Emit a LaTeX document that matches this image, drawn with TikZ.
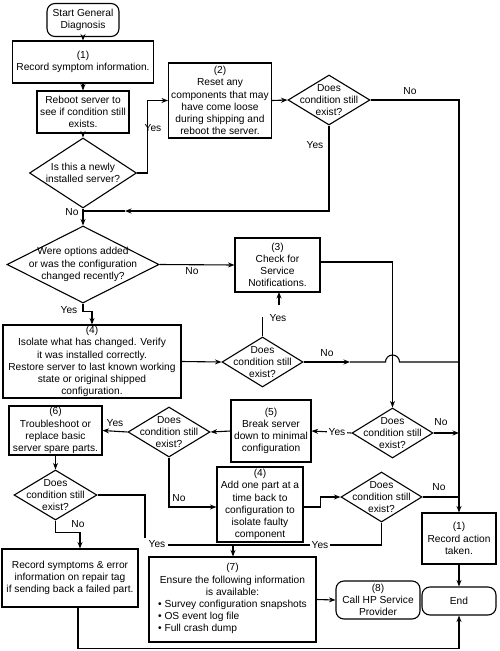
\documentclass[tikz,border=0pt]{standalone}
\usepackage{fontspec}
\setmainfont{Liberation Sans}
\usetikzlibrary{shapes.geometric,arrows.meta}
\begin{document}
\begin{tikzpicture}[x=1pt,y=-1pt,
  font=\fontsize{10.2}{12.2}\selectfont,
  line width=1.1pt,
  arr/.style={-{Stealth[length=6.5pt,width=5pt]}},
  box/.style={draw, rectangle, align=center, inner sep=0pt},
  rbox/.style={box, rounded corners=8pt},
  dia/.style={draw, diamond, inner sep=0pt},
  dtext/.style={align=center, inner sep=0pt},
  lbl/.style={inner sep=1pt},
  wlbl/.style={inner sep=1.5pt, fill=white},
]
\useasboundingbox (0,0) rectangle (500,651);

% ---- nodes ----
\node[rbox, minimum width=72pt, minimum height=33pt] (start) at (83,20) {Start General\\Diagnosis};
\node[box, minimum width=141pt, minimum height=42pt] (b1) at (83,62) {(1)\\Record symptom information.};
\node[box, minimum width=92pt, minimum height=42pt] (reboot) at (83,112) {Reboot server to\\see if condition still\\exists.};
\node[dia, minimum width=107pt, minimum height=70pt] (dnew) at (83,173) {};
\node[dtext] (tnew) at (dnew) {Is this a newly\\installed server?};
\node[box, minimum width=103pt, minimum height=75pt] (b2) at (220,100.5) {(2)\\Reset any\\components that may\\have come loose\\during shipping and\\reboot the server.};
\node[dia, minimum width=82pt, minimum height=50pt] (dc1) at (329,100) {};
\node[dtext] (tc1) at (dc1) {Does\\condition still\\exist?};
\node[dia, minimum width=152pt, minimum height=77pt] (dopt) at (83,264.5) {};
\node[dtext] (topt) at (dopt) {Were options added\\or was the configuration\\changed recently?};
\node[box, minimum width=85pt, minimum height=54pt] (b3) at (277.5,265) {(3)\\Check for\\Service\\Notifications.};
\node[box, minimum width=178pt, minimum height=73pt] (b4) at (92,361.5) {(4)\\Isolate what has changed. Verify\\it was installed correctly.\\Restore server to last known working\\state or original shipped\\configuration.};
\node[dia, minimum width=81pt, minimum height=50pt] (dc2) at (262.5,362) {};
\node[dtext] (tc2) at (dc2) {Does\\condition still\\exist?};
\node[dia, minimum width=81pt, minimum height=50pt] (dc3) at (392.5,433) {};
\node[dtext] (tc3) at (dc3) {Does\\condition still\\exist?};
\node[box, minimum width=80pt, minimum height=62pt] (b5) at (271,431) {(5)\\Break server\\down to minimal\\configuration};
\node[dia, minimum width=82pt, minimum height=50pt] (dc4) at (169,432) {};
\node[dtext] (tc4) at (dc4) {Does\\condition still\\exist?};
\node[box, minimum width=93pt, minimum height=49pt] (b6) at (55.5,430.5) {(6)\\Troubleshoot or\\replace basic\\server spare parts.};
\node[dia, minimum width=83pt, minimum height=50pt] (dc5) at (55.5,495) {};
\node[dtext] (tc5) at (dc5) {Does\\condition still\\exist?};
\node[box, minimum width=86pt, minimum height=75pt] (b4b) at (260,504.5) {(4)\\Add one part at a\\time back to\\configuration to\\isolate faulty\\component};
\node[dia, minimum width=81pt, minimum height=50pt] (dc6) at (381.5,497) {};
\node[dtext] (tc6) at (dc6) {Does\\condition still\\exist?};
\node[box, minimum width=74pt, minimum height=51pt] (b1r) at (459,538.5) {(1)\\Record action\\taken.};
\node[rbox, minimum width=74pt, minimum height=28pt] (end) at (459,601) {End};
\node[rbox, minimum width=84pt, minimum height=38pt] (b8) at (378,600) {(8)\\Call HP Service\\Provider};
\node[box, minimum width=167pt, minimum height=85pt] (b7) at (232.5,599.5) {(7)\\Ensure the following information\\is available:\\\begin{tabular}[t]{@{}l@{}}\textbullet\ Survey configuration snapshots\\\textbullet\ OS event log file\\\textbullet\ Full crash dump\end{tabular}};
\node[box, minimum width=136pt, minimum height=58pt] (brec) at (70,578) {Record symptoms \& error\\information on repair tag\\if sending back a failed part.};

% ---- coordinates ----
\coordinate (j1) at (83,211);
\coordinate (m1) at (125,211);
\coordinate (m2) at (350,362);
\coordinate (h1) at (385.5,362);
\coordinate (x2) at (459,362);
\coordinate (y2a) at (262.5,317);
\coordinate (y2b) at (279,305);
\coordinate (y2c) at (279,292);
\coordinate (j2) at (233,545);
\coordinate (c5) at (145,538);
\coordinate (c5b) at (168,545);

% ---- connectors ----
\draw[arr] (start.south) -- (b1.north);
\draw[arr] (b1.south) -- (reboot.north);
\draw[arr] (reboot.south) -- (dnew.north);
\draw[arr] (dnew.east) -- ++(10,0) |- (b2.west);
\node[lbl] (lyes1) at (153,128) {Yes};
\draw[arr] (b2.east) -- (dc1.west);
\draw[arr] (dc1.east) -| (b1r.north);
\node[lbl] (lno1) at (410,91) {No};
\draw[arr] (dc1.south) |- (m1);
\draw (m1) -- (j1);
\node[lbl] (lyes2) at (315,145) {Yes};
\draw[arr] (dnew.south) -- (dopt.north);
\node[lbl] (lno2) at (72,212) {No};
\draw[arr] (dopt.east) -- (b3.west);
\node[lbl] (lno3) at (192,271) {No};
\draw[arr] (dopt.south) -- ++(0,8) -| (b4.north);
\node[lbl] (lyes3) at (69,310) {Yes};
\draw[arr] ([yshift=3pt]b3.east) -| (dc3.north);
\draw[arr] (b4.east) -- (dc2.west);
\draw (dc2.north) -- (y2a);
\draw[arr] (y2b) -- (y2c);
\node[lbl] (lyes4) at (278,318) {Yes};
\draw[arr] (dc2.east) -- (m2);
\draw (m2) -- (h1) arc[start angle=180, end angle=0, radius=7pt] -- (x2);
\node[lbl] (lno4) at (327,353) {No};
\draw[arr] (dc3.west) -- (b5.east);
\node[wlbl] (lyes5) at (337,432) {Yes};
\draw[arr] (dc3.east) -- (dc3.east -| b1r.north);
\node[lbl] (lno5) at (441,422) {No};
\draw[arr] (b5.west) -- (dc4.east);
\draw[arr] (dc4.west) -- (b6.east);
\node[lbl] (lyes6) at (115,423) {Yes};
\draw[arr] (b6.south) -- (dc5.north);
\draw[arr] (dc4.south) |- ([yshift=-2.5pt]b4b.west);
\node[lbl] (lno6) at (179,498) {No};
\draw[arr] ([yshift=-2.5pt]b4b.east) -- ++(17,0) |- (dc6.west);
\draw (dc6.east) -- (dc6.east -| b1r.north);
\node[lbl] (lno7) at (439,487) {No};
\draw (dc6.south) |- (j2);
\node[wlbl] (lyes7) at (320,545) {Yes};
\draw (dc5.east) -| (c5);
\draw (c5b) -- (j2);
\node[lbl] (lyes8) at (157,544) {Yes};
\draw[arr] (j2) -- (j2 |- b7.north);
\draw[arr] (dc5.south) -- ++(0,12) -| ([xshift=10pt]brec.north);
\node[lbl] (lno8) at (78,524) {No};
\draw[arr] ([xshift=8pt]brec.south) -- ++(0,41) -| (end.south);
\draw[arr] (b7.east) -- (b8.west);
\draw[arr] (b1r.south) -- (end.north);
\end{tikzpicture}
\end{document}
